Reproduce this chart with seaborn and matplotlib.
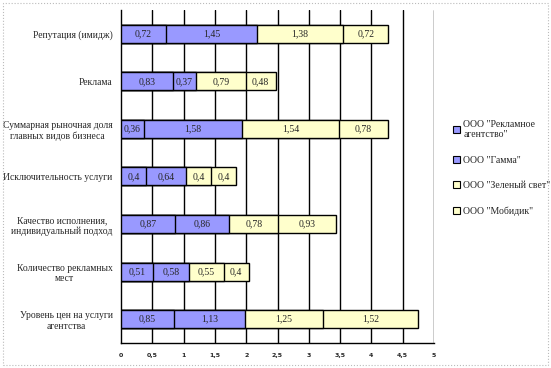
import numpy as np
import pandas as pd
import matplotlib.pyplot as plt
import seaborn as sns
from matplotlib.patches import Patch, Rectangle

categories = ["Репутация (имидж)", "Реклама",
              "Суммарная рыночная доля\nглавных видов бизнеса",
              "Исключительность услуги",
              "Качество исполнения,\nиндивидуальный подход",
              "Количество рекламных\nмест",
              "Уровень цен на услуги\nагентства"]
series_names = ['ООО "Рекламное\nагентство"', 'ООО "Гамма"',
                'ООО "Зеленый свет"', 'ООО "Мобидик"']
reklamnoe = [0.72, 0.83, 0.36, 0.4, 0.87, 0.51, 0.85]
gamma = [1.45, 0.37, 1.58, 0.64, 0.86, 0.58, 1.13]
zeleny = [1.38, 0.79, 1.54, 0.4, 0.78, 0.55, 1.25]
mobidik = [0.72, 0.48, 0.78, 0.4, 0.93, 0.4, 1.52]
colors = ["#9999FF", "#9999FF", "#FFFFCC", "#FFFFCC"]

sns.set_style("white")
plt.rcParams['font.family'] = ['Liberation Serif', 'DejaVu Sans']

df = pd.DataFrame({"cat": categories, "s0": reklamnoe, "s1": gamma,
                   "s2": zeleny, "s3": mobidik})
cols = ["s0", "s1", "s2", "s3"]
cum = df[cols].cumsum(axis=1)

fig = plt.figure(figsize=(5.51, 3.68), dpi=100)
ax = fig.add_axes([0.2196, 0.068, 0.5681, 0.905])

# stacked bars: draw cumulative totals from the largest down
for i in range(3, -1, -1):
    sns.barplot(x=cum[cols[i]], y=df["cat"], order=categories, orient="h",
                color=colors[i], edgecolor="black", linewidth=1,
                width=0.38, saturation=1, ax=ax, zorder=3)

# value labels
for r in range(len(categories)):
    left = 0
    for i, c in enumerate(cols):
        v = df.loc[r, c]
        ax.text(left + v / 2, r, ("%g" % v).replace(".", ","),
                ha="center", va="center", fontsize=7, zorder=5)
        left += v

ax.set_xlim(0, 5)
ax.set_ylim(6.5, -0.5)
ax.set_xticks(np.arange(0, 5.01, 0.5))
ax.set_xticklabels([("%g" % t).replace(".", ",") for t in np.arange(0, 5.01, 0.5)],
                   fontsize=4.5, fontweight="bold", family="DejaVu Sans")
ax.set_yticks(range(len(categories)))
ax.set_yticklabels(categories, fontsize=6.9, multialignment="center")
ax.set_yticks(np.arange(-0.5, 7, 1), minor=True)
ax.tick_params(axis="y", which="major", length=0, pad=6)
ax.tick_params(axis="y", which="minor", length=4, width=1, color="black", direction="out")
ax.tick_params(axis="x", which="major", length=4, width=1, color="black", direction="out", pad=3)
ax.set_xlabel("")
ax.set_ylabel("")
for t in np.arange(0.5, 5.01, 0.5):
    ax.axvline(t, color="black", lw=1, zorder=1)
ax.spines["top"].set_visible(False)
ax.spines["right"].set_visible(False)
ax.spines["left"].set_color("black")
ax.spines["bottom"].set_color("black")
ax.spines["left"].set_linewidth(1)
ax.spines["bottom"].set_linewidth(1)

handles = [Patch(facecolor=colors[i], edgecolor="black", lw=0.8) for i in range(4)]
fig.legend(handles, series_names, loc="upper left", bbox_to_anchor=(0.815, 0.685),
           frameon=False, fontsize=7, handlelength=0.75, handleheight=0.75,
           handletextpad=0.3, labelspacing=1.7, borderaxespad=0)

fig.patches.append(Rectangle((0.006, 0.008), 0.988, 0.984, transform=fig.transFigure,
                             fill=False, ls=":", lw=0.8, edgecolor="#BBBBBB"))

fig.savefig("out.png", dpi=100)
